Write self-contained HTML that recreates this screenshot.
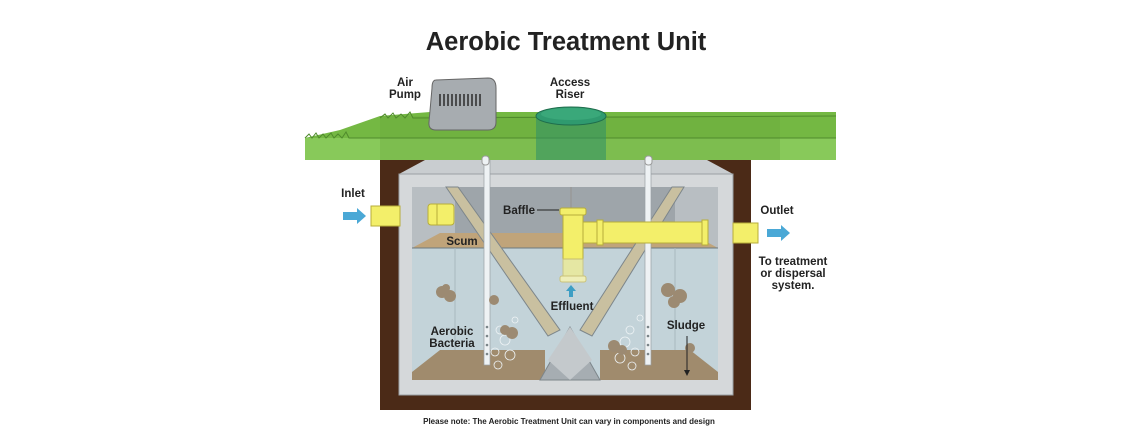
<!DOCTYPE html>
<html><head><meta charset="utf-8"><style>
html,body{margin:0;padding:0;background:#fff;}
svg{display:block}
text{font-family:"Liberation Sans",sans-serif;font-weight:bold;fill:#222;}
</style></head><body>
<svg width="1140" height="430" viewBox="0 0 1140 430" xmlns="http://www.w3.org/2000/svg">
<rect width="1140" height="430" fill="#fff"/>
<text x="566" y="50" font-size="25.5" text-anchor="middle" fill="#1a1a1a">Aerobic Treatment Unit</text>
<!-- dirt -->
<rect x="380" y="150" width="371" height="260" fill="#4b2a17"/>
<!-- tank outer -->
<polygon points="399,174 425,160 707,160 733,174 733,395 399,395" fill="#c9cdd0"/>
<rect x="399" y="174" width="334" height="221" fill="#d5d8da" stroke="#9aa0a4" stroke-width="1"/>
<!-- inner -->
<rect x="412" y="187" width="306" height="193" fill="#b8bec2"/>
<rect x="455" y="187" width="220" height="60" fill="#9ea5aa"/>
<!-- scum -->
<polygon points="412,248 440,233 690,233 718,248" fill="#c0a47a"/>
<!-- water -->
<rect x="412" y="248" width="306" height="132" fill="#c3d3d9"/>
<line x1="412" y1="248" x2="718" y2="248" stroke="#6d7a80" stroke-width="1"/>
<line x1="455" y1="248" x2="455" y2="350" stroke="#a8b9bf"/>
<line x1="675" y1="248" x2="675" y2="350" stroke="#a8b9bf"/>
<!-- sludge -->
<polygon points="412,372 440,350 545,350 545,380 412,380" fill="#a08b6d"/>
<polygon points="600,350 690,350 718,372 718,380 600,380" fill="#a08b6d"/>
<!-- V -->
<polygon points="570,327 540,380 600,380" fill="#a6adb2" stroke="#7d868b"/>
<polygon points="570,327 548,360 570,380 592,360" fill="#c4c9cc"/>
<!-- diagonal baffles -->
<polygon points="446,187 458,187 560,330 548,336" fill="#c9c0a0" stroke="#7d868b"/>
<polygon points="684,187 672,187 580,330 592,336" fill="#c9c0a0" stroke="#7d868b"/>
<!-- air tubes -->
<rect x="484" y="160" width="6" height="205" fill="#eef2f4" stroke="#9aa0a4" stroke-width="0.7"/>
<rect x="645" y="160" width="6" height="205" fill="#eef2f4" stroke="#9aa0a4" stroke-width="0.7"/>
<g fill="#7a8488"><circle cx="487" cy="327" r="1.3"/><circle cx="487" cy="336" r="1.3"/><circle cx="487" cy="345" r="1.3"/><circle cx="487" cy="354" r="1.3"/><circle cx="648" cy="327" r="1.3"/><circle cx="648" cy="336" r="1.3"/><circle cx="648" cy="345" r="1.3"/><circle cx="648" cy="354" r="1.3"/></g>
<!-- bubbles -->
<g fill="none" stroke="#eef3f5" stroke-width="0.8">
<circle cx="500" cy="330" r="4"/><circle cx="505" cy="340" r="5"/><circle cx="495" cy="352" r="4"/><circle cx="510" cy="355" r="5"/><circle cx="498" cy="365" r="4"/><circle cx="515" cy="320" r="3"/>
<circle cx="630" cy="330" r="4"/><circle cx="625" cy="342" r="5"/><circle cx="635" cy="352" r="4"/><circle cx="620" cy="358" r="5"/><circle cx="632" cy="366" r="4"/><circle cx="640" cy="318" r="3"/></g>
<!-- sludge blobs -->
<g fill="#9c8a72"><circle cx="442" cy="292" r="6"/><circle cx="450" cy="296" r="6"/><circle cx="446" cy="288" r="4"/>
<circle cx="494" cy="300" r="5"/><circle cx="512" cy="333" r="6"/><circle cx="505" cy="330" r="5"/>
<circle cx="668" cy="290" r="7"/><circle cx="680" cy="296" r="7"/><circle cx="674" cy="302" r="6"/>
<circle cx="614" cy="346" r="6"/><circle cx="622" cy="350" r="5"/><circle cx="690" cy="348" r="5"/></g>
<!-- baffle rod -->
<line x1="571" y1="187" x2="571" y2="210" stroke="#999" stroke-width="1.5"/>
<!-- pipes -->
<rect x="583" y="222" width="125" height="21" fill="#f3ef6a" stroke="#b7ad3a"/>
<rect x="597" y="220" width="6" height="25" fill="#f3ef6a" stroke="#b7ad3a"/>
<rect x="702" y="220" width="6" height="25" fill="#f3ef6a" stroke="#b7ad3a"/>
<rect x="563" y="211" width="20" height="48" fill="#f3ef6a" stroke="#b7ad3a"/>
<rect x="563" y="259" width="20" height="20" fill="#eceb9a" stroke="#c9c27a" opacity="0.85"/>
<rect x="560" y="208" width="26" height="7" rx="2" fill="#f3ef6a" stroke="#b7ad3a"/>
<rect x="560" y="276" width="26" height="6" rx="2" fill="#eeeeb8" stroke="#c9c27a"/>
<rect x="733" y="223" width="25" height="20" fill="#f3ef6a" stroke="#b7ad3a"/>
<rect x="371" y="206" width="29" height="20" fill="#f3ef6a" stroke="#b7ad3a"/>
<rect x="428" y="204" width="26" height="21" rx="3" fill="#f3ef6a" stroke="#b7ad3a"/>
<line x1="437" y1="204" x2="437" y2="225" stroke="#b7ad3a"/>
<!-- effluent arrow -->
<polygon points="571,285 566,291 569,291 569,297 573,297 573,291 576,291" fill="#3e9ec4"/>
<!-- sludge arrow -->
<line x1="687" y1="336" x2="687" y2="372" stroke="#222" stroke-width="1"/>
<polygon points="684,370 690,370 687,376" fill="#222"/>
<line x1="537" y1="210" x2="559" y2="210" stroke="#222" stroke-width="1"/>
<!-- grass -->
<polygon points="305,138 340,130 380,116 430,112 836,112 836,138" fill="#74b843"/>
<polygon points="305,138 836,138 836,160 305,160" fill="#88c95a"/>
<rect x="380" y="116" width="400" height="44" fill="#6aa63c" opacity="0.35"/>
<path d="M305,138 l4,-4 l3,4 l4,-5 l3,5 l4,-4 l3,4 l5,-5 l3,5 l4,-4 l4,4 l4,-6 l3,6 L836,138" fill="none" stroke="#4f8a2c" stroke-width="1"/>
<path d="M380,118 l5,-4 l3,4 l5,-5 l3,5 l5,-4 l4,4 l5,-6 l3,6 L836,116" fill="none" stroke="#4f8a2c" stroke-width="1"/>
<!-- riser -->
<rect x="536" y="116" width="70" height="44" fill="#2e8f68" opacity="0.55"/>
<ellipse cx="571" cy="116" rx="35" ry="9" fill="#2f9a6f" stroke="#1f6e4d"/>
<ellipse cx="571" cy="114" rx="30" ry="6" fill="#3aa87a"/>
<!-- tube tops -->
<rect x="482" y="156" width="7" height="9" rx="3" fill="#eef2f4" stroke="#999"/>
<rect x="645" y="156" width="7" height="9" rx="3" fill="#eef2f4" stroke="#999"/>
<!-- air pump -->
<path d="M436,80 L488,78 Q496,78 496,88 L496,122 Q496,130 488,130 L436,130 Q428,130 429,122 L432,88 Q432,80 436,80 Z" fill="#a7acb0" stroke="#666"/>
<g stroke="#333" stroke-width="1.6"><line x1="440" y1="94" x2="440" y2="106"/><line x1="444" y1="94" x2="444" y2="106"/><line x1="448" y1="94" x2="448" y2="106"/><line x1="452" y1="94" x2="452" y2="106"/><line x1="456" y1="94" x2="456" y2="106"/><line x1="460" y1="94" x2="460" y2="106"/><line x1="464" y1="94" x2="464" y2="106"/><line x1="468" y1="94" x2="468" y2="106"/><line x1="472" y1="94" x2="472" y2="106"/><line x1="476" y1="94" x2="476" y2="106"/><line x1="480" y1="94" x2="480" y2="106"/></g>
<!-- side arrows -->
<polygon points="343,212 357,212 357,208 366,216 357,224 357,220 343,220" fill="#4aa8d6"/>
<polygon points="767,229 781,229 781,225 790,233 781,241 781,237 767,237" fill="#4aa8d6"/>
<!-- labels -->
<g font-size="11.5">
<text x="405" y="86" text-anchor="middle">Air</text>
<text x="405" y="98" text-anchor="middle">Pump</text>
<text x="570" y="86" text-anchor="middle">Access</text>
<text x="570" y="98" text-anchor="middle">Riser</text>
<text x="353" y="197" text-anchor="middle">Inlet</text>
<text x="777" y="214" text-anchor="middle">Outlet</text>
<text x="793" y="265" text-anchor="middle">To treatment</text>
<text x="793" y="277" text-anchor="middle">or dispersal</text>
<text x="793" y="289" text-anchor="middle">system.</text>
<text x="519" y="214" text-anchor="middle">Baffle</text>
<text x="462" y="245" text-anchor="middle">Scum</text>
<text x="572" y="310" text-anchor="middle">Effluent</text>
<text x="686" y="329" text-anchor="middle">Sludge</text>
<text x="452" y="335" text-anchor="middle">Aerobic</text>
<text x="452" y="347" text-anchor="middle">Bacteria</text>
</g>
<text x="569" y="424" font-size="8" text-anchor="middle">Please note: The Aerobic Treatment Unit can vary in components and design</text>
</svg>
</body></html>
